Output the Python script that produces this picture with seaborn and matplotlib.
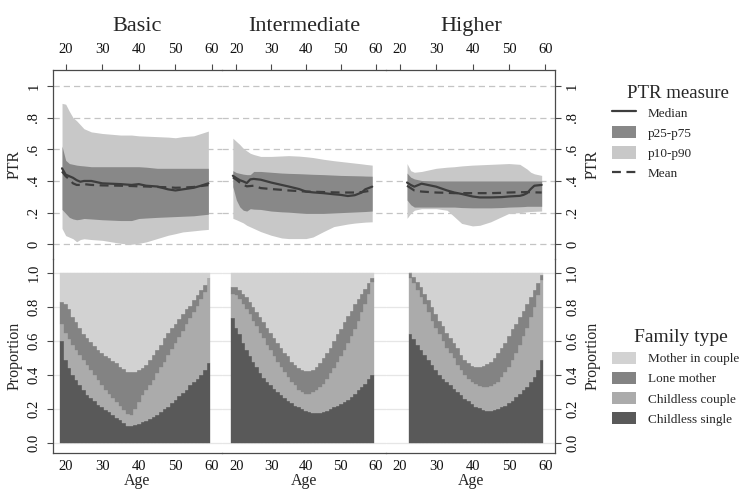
import numpy as np
import matplotlib
matplotlib.use("Agg")
import matplotlib.pyplot as plt
from matplotlib.lines import Line2D
from matplotlib.patches import Patch
import seaborn as sns

# ---- data: PTR by age (top row) ----
panels = ["Basic", "Intermediate", "Higher"]

basic_ptr_age = [19, 20, 21, 22, 23, 24, 25, 27, 30, 35, 38, 40, 42, 45, 48, 50, 52, 55, 57, 59]
basic_p90 = [0.89, 0.885, 0.84, 0.80, 0.78, 0.755, 0.73, 0.71, 0.70, 0.69, 0.69, 0.685, 0.683, 0.68, 0.677, 0.673, 0.68, 0.685, 0.70, 0.715]
basic_p10 = [0.10, 0.055, 0.045, 0.035, 0.016, 0.03, 0.035, 0.03, 0.025, 0.006, 0.0, 0.006, 0.015, 0.036, 0.057, 0.067, 0.078, 0.085, 0.09, 0.094]
basic_p75 = [0.62, 0.53, 0.51, 0.505, 0.50, 0.497, 0.495, 0.49, 0.49, 0.49, 0.49, 0.49, 0.487, 0.48, 0.48, 0.48, 0.48, 0.48, 0.48, 0.48]
basic_p25 = [0.22, 0.195, 0.17, 0.16, 0.155, 0.158, 0.163, 0.16, 0.155, 0.15, 0.15, 0.163, 0.166, 0.17, 0.173, 0.175, 0.177, 0.18, 0.185, 0.19]
basic_median = [0.48, 0.44, 0.43, 0.42, 0.405, 0.395, 0.40, 0.40, 0.385, 0.38, 0.375, 0.38, 0.37, 0.365, 0.347, 0.34, 0.347, 0.357, 0.37, 0.385]
basic_mean = [0.46, 0.43, 0.41, 0.385, 0.375, 0.375, 0.38, 0.375, 0.372, 0.37, 0.368, 0.366, 0.365, 0.362, 0.36, 0.357, 0.358, 0.362, 0.368, 0.374]

inter_ptr_age = [19, 20, 21, 22, 23, 24, 25, 27, 30, 33, 35, 38, 40, 42, 45, 48, 50, 52, 54, 56, 57, 59]
inter_p90 = [0.67, 0.65, 0.63, 0.606, 0.59, 0.575, 0.567, 0.555, 0.555, 0.558, 0.56, 0.557, 0.553, 0.548, 0.537, 0.528, 0.523, 0.518, 0.513, 0.508, 0.505, 0.50]
inter_p10 = [0.164, 0.155, 0.145, 0.135, 0.12, 0.11, 0.10, 0.08, 0.057, 0.04, 0.036, 0.036, 0.036, 0.046, 0.08, 0.112, 0.12, 0.128, 0.134, 0.138, 0.14, 0.142]
inter_p75 = [0.465, 0.453, 0.448, 0.443, 0.44, 0.44, 0.46, 0.46, 0.455, 0.45, 0.448, 0.446, 0.444, 0.442, 0.44, 0.437, 0.435, 0.434, 0.433, 0.432, 0.431, 0.43]
inter_p25 = [0.364, 0.28, 0.236, 0.215, 0.21, 0.225, 0.222, 0.22, 0.21, 0.205, 0.203, 0.198, 0.195, 0.195, 0.195, 0.198, 0.2, 0.202, 0.204, 0.206, 0.207, 0.21]
inter_median = [0.433, 0.418, 0.405, 0.397, 0.387, 0.41, 0.413, 0.408, 0.39, 0.375, 0.365, 0.349, 0.333, 0.328, 0.323, 0.316, 0.312, 0.305, 0.31, 0.327, 0.347, 0.364]
inter_mean = [0.423, 0.408, 0.39, 0.377, 0.366, 0.368, 0.37, 0.355, 0.349, 0.344, 0.34, 0.336, 0.333, 0.332, 0.33, 0.328, 0.327, 0.327, 0.327, 0.33, 0.333, 0.34]

higher_ptr_age = [22, 23, 24, 26, 30, 33, 35, 37, 40, 42, 45, 48, 50, 53, 54, 55, 56, 57, 59]
higher_p90 = [0.51, 0.465, 0.455, 0.46, 0.48, 0.487, 0.49, 0.495, 0.50, 0.502, 0.505, 0.508, 0.51, 0.505, 0.49, 0.475, 0.455, 0.445, 0.435]
higher_p10 = [0.164, 0.195, 0.215, 0.225, 0.225, 0.215, 0.174, 0.132, 0.116, 0.12, 0.142, 0.174, 0.195, 0.2, 0.202, 0.205, 0.207, 0.208, 0.21]
higher_p75 = [0.45, 0.424, 0.413, 0.403, 0.40, 0.40, 0.40, 0.40, 0.40, 0.40, 0.40, 0.40, 0.40, 0.40, 0.40, 0.40, 0.40, 0.40, 0.40]
higher_p25 = [0.28, 0.25, 0.235, 0.235, 0.235, 0.235, 0.235, 0.232, 0.23, 0.23, 0.23, 0.232, 0.235, 0.237, 0.238, 0.24, 0.24, 0.24, 0.24]
higher_median = [0.39, 0.375, 0.364, 0.383, 0.364, 0.34, 0.327, 0.318, 0.302, 0.296, 0.296, 0.298, 0.302, 0.306, 0.312, 0.323, 0.349, 0.37, 0.375]
higher_mean = [0.37, 0.355, 0.34, 0.333, 0.327, 0.325, 0.323, 0.323, 0.323, 0.323, 0.323, 0.325, 0.327, 0.329, 0.329, 0.33, 0.329, 0.328, 0.327]

# ---- data: family type shares by age (bottom row), cumulative tops ----
family_types = ["Mother in couple", "Lone mother", "Childless couple", "Childless single"]

basic_fam_age = list(range(19, 60))
basic_single_top = [0.60, 0.49, 0.44, 0.40, 0.37, 0.34, 0.31, 0.285, 0.265, 0.245, 0.225, 0.21, 0.195, 0.18, 0.165, 0.15, 0.135, 0.12, 0.10, 0.098, 0.105,
                    0.115, 0.125, 0.13, 0.14, 0.155, 0.168, 0.18, 0.20, 0.215, 0.235, 0.255, 0.275, 0.295, 0.315, 0.34, 0.36, 0.38, 0.40, 0.43, 0.47]
basic_couple_top = [0.70, 0.65, 0.61, 0.58, 0.55, 0.52, 0.49, 0.46, 0.43, 0.40, 0.37, 0.34, 0.315, 0.29, 0.265, 0.24, 0.22, 0.195, 0.17, 0.165, 0.20,
                    0.24, 0.28, 0.31, 0.34, 0.37, 0.41, 0.445, 0.48, 0.52, 0.555, 0.59, 0.625, 0.66, 0.70, 0.735, 0.77, 0.81, 0.85, 0.89, 0.97]
basic_lone_top = [0.83, 0.82, 0.79, 0.745, 0.71, 0.68, 0.645, 0.617, 0.595, 0.57, 0.55, 0.53, 0.515, 0.50, 0.485, 0.47, 0.45, 0.435, 0.42, 0.417, 0.42,
                  0.43, 0.44, 0.46, 0.49, 0.52, 0.55, 0.58, 0.62, 0.65, 0.675, 0.70, 0.73, 0.76, 0.79, 0.81, 0.84, 0.87, 0.90, 0.93, 0.975]

inter_fam_age = list(range(19, 60))
inter_single_top = [0.735, 0.68, 0.64, 0.59, 0.55, 0.51, 0.48, 0.445, 0.41, 0.385, 0.36, 0.34, 0.32, 0.30, 0.28, 0.265, 0.25, 0.235, 0.22, 0.21, 0.20,
                    0.19, 0.18, 0.175, 0.175, 0.178, 0.18, 0.19, 0.20, 0.21, 0.22, 0.23, 0.24, 0.255, 0.27, 0.29, 0.31, 0.33, 0.35, 0.375, 0.40]
inter_couple_top = [0.88, 0.87, 0.85, 0.82, 0.79, 0.76, 0.72, 0.69, 0.65, 0.62, 0.58, 0.55, 0.51, 0.48, 0.45, 0.42, 0.39, 0.36, 0.34, 0.31, 0.30,
                    0.29, 0.29, 0.30, 0.31, 0.33, 0.35, 0.38, 0.41, 0.44, 0.48, 0.51, 0.55, 0.59, 0.63, 0.67, 0.72, 0.77, 0.82, 0.88, 0.95]
inter_lone_top = [0.92, 0.92, 0.90, 0.88, 0.86, 0.83, 0.80, 0.77, 0.74, 0.71, 0.68, 0.65, 0.62, 0.59, 0.56, 0.53, 0.51, 0.48, 0.46, 0.44, 0.43,
                  0.425, 0.425, 0.43, 0.45, 0.47, 0.50, 0.53, 0.56, 0.60, 0.64, 0.67, 0.71, 0.75, 0.78, 0.82, 0.85, 0.88, 0.91, 0.94, 0.97]

higher_fam_age = list(range(23, 60))
higher_single_top = [0.64, 0.61, 0.58, 0.55, 0.52, 0.49, 0.46, 0.43, 0.40, 0.38, 0.36, 0.34, 0.32, 0.30, 0.28, 0.26, 0.245, 0.23, 0.215,
                     0.205, 0.195, 0.19, 0.19, 0.195, 0.20, 0.21, 0.22, 0.235, 0.25, 0.27, 0.29, 0.31, 0.33, 0.36, 0.39, 0.43, 0.49]
higher_couple_top = [0.97, 0.94, 0.90, 0.86, 0.82, 0.77, 0.72, 0.68, 0.64, 0.60, 0.56, 0.53, 0.50, 0.46, 0.43, 0.40, 0.38, 0.36, 0.345,
                     0.335, 0.33, 0.33, 0.335, 0.345, 0.36, 0.39, 0.42, 0.45, 0.49, 0.53, 0.58, 0.63, 0.68, 0.74, 0.80, 0.87, 0.96]
higher_lone_top = [1.0, 0.98, 0.95, 0.92, 0.88, 0.84, 0.80, 0.76, 0.72, 0.69, 0.65, 0.62, 0.59, 0.56, 0.52, 0.49, 0.47, 0.455, 0.45,
                   0.45, 0.455, 0.465, 0.48, 0.50, 0.53, 0.56, 0.59, 0.63, 0.67, 0.70, 0.74, 0.78, 0.82, 0.86, 0.90, 0.94, 0.99]

age_ticks = [20, 30, 40, 50, 60]
ptr_ticks = [0, 0.2, 0.4, 0.6, 0.8, 1]
ptr_ticklabels = ["0", ".2", ".4", ".6", ".8", "1"]
prop_ticks = [0, 0.2, 0.4, 0.6, 0.8, 1.0]
prop_ticklabels = ["0.0", "0.2", "0.4", "0.6", "0.8", "1.0"]

ptr_data = [
    (basic_ptr_age, basic_p10, basic_p25, basic_median, basic_p75, basic_p90, basic_mean),
    (inter_ptr_age, inter_p10, inter_p25, inter_median, inter_p75, inter_p90, inter_mean),
    (higher_ptr_age, higher_p10, higher_p25, higher_median, higher_p75, higher_p90, higher_mean),
]
fam_data = [
    (basic_fam_age, basic_single_top, basic_couple_top, basic_lone_top),
    (inter_fam_age, inter_single_top, inter_couple_top, inter_lone_top),
    (higher_fam_age, higher_single_top, higher_couple_top, higher_lone_top),
]

# ---- style ----
sns.set_style("white")
plt.rcParams["font.family"] = ["Liberation Serif", "DejaVu Serif"]

c_line = "#3d3d3d"
c_iqr = "#888888"
c_p1090 = "#c8c8c8"
c_mother = "#d2d2d2"
c_lone = "#838383"
c_couple = "#ababab"
c_single = "#595959"
c_frame = "#4a4a4a"

W, H = 740, 495
fig = plt.figure(figsize=(W / 100, H / 100), dpi=100)


def rect(x0, x1, y0, y1):
    return [x0 / W, 1 - y1 / H, (x1 - x0) / W, (y1 - y0) / H]


col_edges = [(52.7, 221.7), (221.7, 386.3), (386.3, 555.3)]
col_xlim = [(16.45, 62.65), (15.8, 63.05), (16.3, 62.75)]
top_rows = (70, 259)
bot_rows = (259, 452.7)

tick_kw = dict(direction="out", length=4.3, width=0.8, color=c_frame, labelsize=10.5, labelcolor="#111111")

for i, name in enumerate(panels):
    x0, x1 = col_edges[i]
    ax_t = fig.add_axes(rect(x0, x1, *top_rows))
    ax_b = fig.add_axes(rect(x0, x1, *bot_rows))

    # PTR bands and lines
    age, p10, p25, med, p75, p90, mean = ptr_data[i]
    ax_t.fill_between(age, p10, p90, color=c_p1090, lw=0, zorder=2)
    ax_t.fill_between(age, p25, p75, color=c_iqr, lw=0, zorder=3)
    sns.lineplot(x=age, y=med, ax=ax_t, color=c_line, lw=1.6, zorder=4)
    sns.lineplot(x=age, y=mean, ax=ax_t, color=c_line, lw=1.6, linestyle=(0, (4, 2.5)), zorder=4)

    # family type stacked bars
    fage, single, couple, lone = fam_data[i]
    single = np.array(single)
    couple = np.array(couple)
    lone = np.array(lone)
    layers = [
        (single, np.zeros_like(single), c_single),
        (couple - single, single, c_couple),
        (lone - couple, couple, c_lone),
        (1 - lone, lone, c_mother),
    ]
    for height, bottom, col in layers:
        ax_b.bar(fage, height, bottom=bottom, width=1.0, color=col,
                 edgecolor=col, linewidth=0.25, zorder=2)

    for ax in (ax_t, ax_b):
        ax.set_xlim(*col_xlim[i])
        ax.set_xticks(age_ticks)
        ax.set_facecolor("none")
        for s in ax.spines.values():
            s.set_color(c_frame)
            s.set_linewidth(0.9)
        ax.spines["left"].set_visible(i == 0)
        ax.spines["right"].set_visible(i == 2)
        ax.set_xlabel("")
        ax.set_ylabel("")

    ax_t.set_ylim(-0.093, 1.101)
    ax_t.set_yticks(ptr_ticks)
    ax_t.set_yticklabels(ptr_ticklabels)
    ax_t.spines["bottom"].set_visible(False)
    ax_t.xaxis.tick_top()
    ax_t.tick_params(axis="x", pad=6.0, **tick_kw)
    ax_t.grid(axis="y", color="#c4c4c4", lw=0.9, linestyle=(0, (5, 3.2)), zorder=0)
    ax_t.grid(axis="x", visible=False)

    ax_b.set_ylim(-0.057, 1.084)
    ax_b.set_yticks(prop_ticks)
    ax_b.set_yticklabels(prop_ticklabels)
    ax_b.spines["top"].set_visible(False)
    ax_b.tick_params(axis="x", pad=1.2, **tick_kw)
    ax_b.grid(axis="y", color="#e6e6e6", lw=0.9, zorder=0)
    ax_b.grid(axis="x", visible=False)
    ax_b.set_xlabel("Age", fontsize=11.5, labelpad=0)
    ax_b.xaxis.set_label_coords(0.5, -0.105)

    for ax, lab in ((ax_t, "PTR"), (ax_b, "Proportion")):
        ax.set_axisbelow(True)
        if i == 0:
            ax.tick_params(axis="y", left=True, right=False, labelleft=True, labelright=False,
                           labelrotation=90, pad=4.5, **tick_kw)
            for t in ax.get_yticklabels():
                t.set_va("center")
            ax.set_ylabel(lab, fontsize=11.5)
            ax.yaxis.set_label_coords((22.5 - x0) / (x1 - x0), 0.5)
        elif i == 2:
            ax.yaxis.tick_right()
            ax.tick_params(axis="y", left=False, right=True, labelleft=False, labelright=True,
                           labelrotation=90, pad=3.5, **tick_kw)
            for t in ax.get_yticklabels():
                t.set_va("center")
            ax.yaxis.set_label_position("right")
            ax.set_ylabel(lab, fontsize=11.5)
            ax.yaxis.set_label_coords((584.5 - x0) / (x1 - x0), 0.5)
        else:
            ax.tick_params(axis="y", left=False, right=False, labelleft=False, labelright=False)

    fig.text((x0 + x1) / 2 / W, 1 - 30.7 / H, name, ha="center", va="baseline", fontsize=16)

# ---- legends ----
ptr_handles = [
    Line2D([0], [0], color=c_line, lw=1.6),
    Patch(facecolor=c_iqr, edgecolor="none"),
    Patch(facecolor=c_p1090, edgecolor="none"),
    Line2D([0], [0], color=c_line, lw=1.6, linestyle=(0, (4, 2.5))),
]
leg_kw = dict(loc="upper left", frameon=False, fontsize=9.5, borderpad=0,
              handlelength=1.85, handleheight=1.05, handletextpad=0.85, labelspacing=0.5, borderaxespad=0)
fig.legend(ptr_handles, ["Median", "p25-p75", "p10-p90", "Mean"],
           bbox_to_anchor=(612 / W, 1 - 106 / H), **leg_kw)
fig.text(678 / W, 1 - 93 / H, "PTR measure", ha="center", va="center", fontsize=13.5)

fam_colors = [c_mother, c_lone, c_couple, c_single]
fam_handles = [Patch(facecolor=c, edgecolor="none") for c in fam_colors]
fig.legend(fam_handles, family_types,
           bbox_to_anchor=(612 / W, 1 - 351.5 / H), **leg_kw)
fig.text(681 / W, 1 - 338 / H, "Family type", ha="center", va="center", fontsize=14)

fig.savefig("out.png", dpi=100)
